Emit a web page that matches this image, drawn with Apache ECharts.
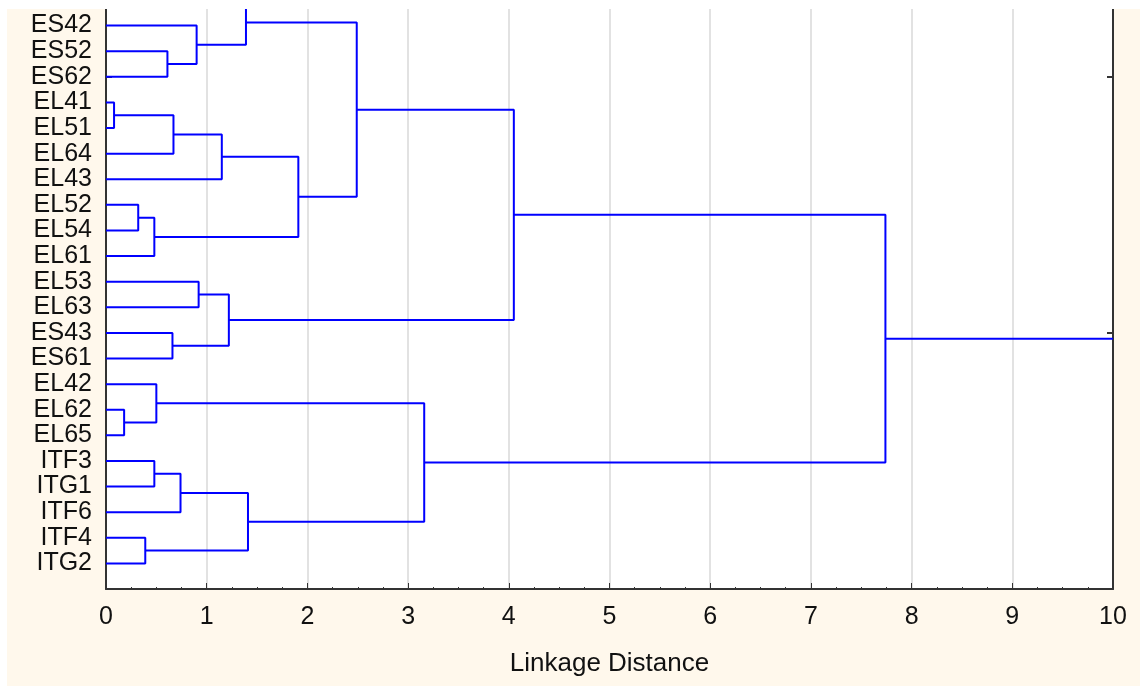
<!DOCTYPE html>
<html>
<head>
<meta charset="utf-8">
<script src="https://cdn.jsdelivr.net/npm/echarts@6/dist/echarts.min.js"></script>
<style>
html,body{margin:0;padding:0;background:#fff;}
#chart{width:1144px;height:686px;}
</style>
</head>
<body>
<div id="chart"></div>
<script>
// Leaf order top→bottom; the first leaf lies just above the visible area (cut off).
const leafNames = ['', 'ES42','ES52','ES62','EL41','EL51','EL64','EL43','EL52','EL54','EL61',
  'EL53','EL63','ES43','ES61','EL42','EL62','EL65','ITF3','ITG1','ITF6','ITF4','ITG2'];
// Merges: node id, left child, right child, linkage distance
const nodeIds   = ['A','B','C','D','E','F','G','H','I','J','K','L','M','N','O','P','Q','R','S','T','U','V'];
const leftChild = ['ES52','ES42','','EL41','D','E','EL52','G','F','C','EL53','ES43','K','J','EL62','EL42','ITF3','Q','ITF4','R','P','N'];
const rightChild= ['ES62','A','B','EL51','EL64','EL43','EL54','EL61','H','I','EL63','ES61','L','M','EL65','O','ITG1','ITF6','ITG2','S','T','U'];
const linkDist  = [0.61,0.90,1.39,0.08,0.67,1.15,0.32,0.48,1.91,2.49,0.92,0.66,1.22,4.05,0.18,0.50,0.48,0.74,0.39,1.41,3.16,7.74];
const rootTailTo = 10;
const xTicks = [0,1,2,3,4,5,6,7,8,9,10];

const pos = {}, height = {};
leafNames.forEach((n, i) => { pos[n] = i - 1; height[n] = 0; });
const series = [];
const blue = '#0000ff';
nodeIds.forEach((id, i) => {
  const a = leftChild[i], b = rightChild[i], h = linkDist[i];
  pos[id] = (pos[a] + pos[b]) / 2;
  height[id] = h;
  series.push({
    type: 'line', symbol: 'none', silent: true, animation: false,
    lineStyle: { color: blue, width: 2 },
    data: [[height[a], pos[a]], [h, pos[a]], [h, pos[b]], [height[b], pos[b]]]
  });
});
const root = nodeIds[nodeIds.length - 1];
series.push({
  type: 'line', symbol: 'none', silent: true, animation: false,
  lineStyle: { color: blue, width: 2 },
  data: [[height[root], pos[root]], [rootTailTo, pos[root]]]
});

const font = 'Liberation Sans, Arial, sans-serif';
const axisCol = '#333';
const chart = echarts.init(document.getElementById('chart'), null, { renderer: 'canvas' });
chart.setOption({
  backgroundColor: '#FFF8EC',
  animation: false,
  grid: { left: 106, right: 31, top: -2, bottom: 97, show: true, backgroundColor: '#fff', borderWidth: 0 },
  xAxis: {
    type: 'value', min: xTicks[0], max: xTicks[xTicks.length - 1], interval: 1,
    axisLine: { show: true, onZero: false, lineStyle: { color: axisCol, width: 2 } },
    axisTick: { show: true, inside: true, length: 6, lineStyle: { color: axisCol, width: 1 } },
    minorTick: { show: true, splitNumber: 4, length: 2, lineStyle: { color: axisCol, width: 1 } },
    splitLine: { show: true, lineStyle: { color: '#d9d9d9', width: 1.5 } },
    axisLabel: { fontFamily: font, fontSize: 25, color: '#111', margin: 16 },
    name: 'Linkage Distance', nameLocation: 'middle', nameGap: 62,
    nameTextStyle: { fontFamily: font, fontSize: 26, color: '#111' }
  },
  yAxis: [{
    type: 'value', inverse: true, min: -1, max: 22, interval: 1, position: 'left',
    axisLine: { show: true, lineStyle: { color: axisCol, width: 2 } },
    axisTick: { show: true, inside: true, length: 6, customValues: [2, 12], lineStyle: { color: axisCol, width: 2 } },
    splitLine: { show: false },
    axisLabel: { fontFamily: font, fontSize: 25, color: '#111', margin: 14,
      formatter: v => (v >= 0 && v + 1 < leafNames.length) ? leafNames[v + 1] : '' }
  }, {
    type: 'value', inverse: true, min: -1, max: 22, interval: 1, position: 'right',
    axisLine: { show: true, lineStyle: { color: axisCol, width: 2 } },
    axisTick: { show: true, inside: true, length: 6, customValues: [2, 12], lineStyle: { color: axisCol, width: 2 } },
    splitLine: { show: false },
    axisLabel: { show: false }
  }],
  graphic: [
    { type: 'rect', z: 100, shape: { x: 0, y: 0, width: 1144, height: 9 }, style: { fill: '#fff' } },
    { type: 'rect', z: 100, shape: { x: 0, y: 0, width: 7, height: 686 }, style: { fill: '#fff' } },
    { type: 'rect', z: 100, shape: { x: 1140, y: 0, width: 4, height: 686 }, style: { fill: '#fff' } }
  ],
  series: series
});
</script>
</body>
</html>
